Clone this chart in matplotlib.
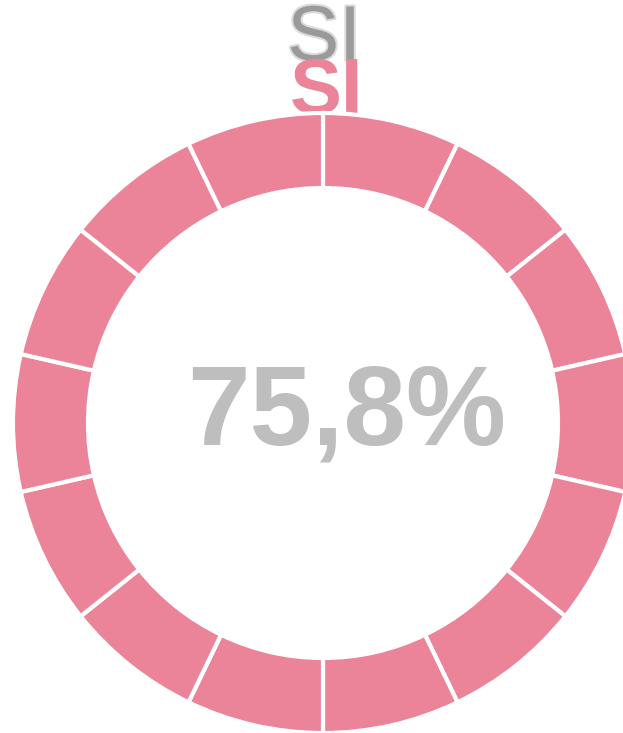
import matplotlib
matplotlib.use('Agg')
import matplotlib.pyplot as plt
import matplotlib.patheffects as pe

# Dados
segmentos = [1, 1, 1, 1, 1, 1, 1, 1, 1, 1, 1, 1, 1, 1]
percentual = "75,8%"
rotulo = "SI"

rosa = '#EC8499'
cinza = '#BEBEBE'

plt.rcParams['font.family'] = ['Liberation Sans', 'DejaVu Sans']

fig = plt.figure(figsize=(6.23, 7.33), dpi=100)
ax = fig.add_axes([0, 0, 1, 1])

# Rótulos do topo (o rosa fica atrás do anel)
ax.text(324, 673, rotulo, ha='center', va='baseline', fontsize=56,
        color='#9A9A9A', zorder=1,
        path_effects=[pe.Stroke(linewidth=3, foreground='#9A9A9A', alpha=0.35),
                      pe.Normal()])
ax.text(326, 620, rotulo, ha='center', va='baseline', fontsize=56,
        fontweight='bold', color=rosa, zorder=1)

# Anel
ax.pie(segmentos, colors=[rosa] * len(segmentos), startangle=90,
       counterclock=False, radius=310, center=(323, 310),
       wedgeprops=dict(width=75, edgecolor='white', linewidth=3, zorder=2))

# Valor central
ax.text(347, 288, percentual, ha='center', va='baseline', fontsize=81,
        fontweight='bold', color=cinza, zorder=3)

ax.set_xlim(0, 623)
ax.set_ylim(0, 733)
ax.set_aspect('equal')
ax.axis('off')

plt.savefig('out.png', dpi=100)
